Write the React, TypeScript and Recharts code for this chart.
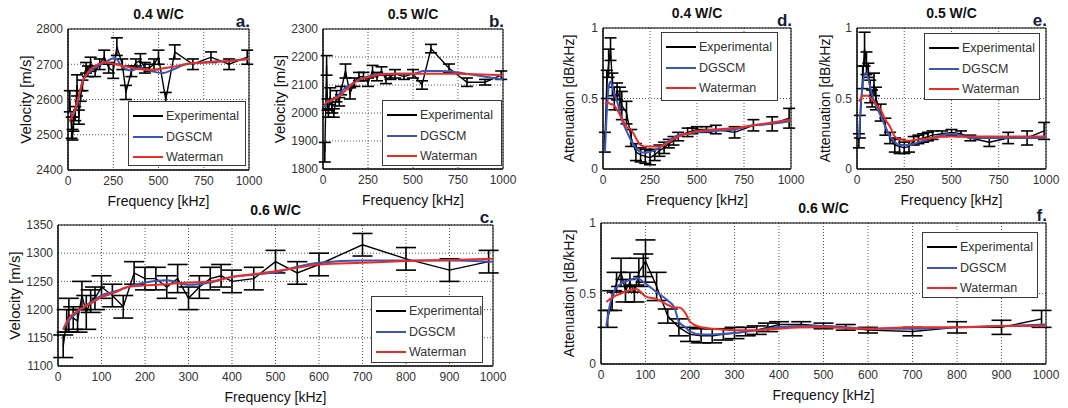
import { LineChart, Line, XAxis, YAxis, CartesianGrid, ErrorBar, ReferenceArea, Label } from 'recharts';

const FONT = '"Liberation Sans", Arial, Helvetica, sans-serif';
const BLACK = '#000000';
const BLUE = '#3a57b8';
const RED = '#ee2a24';

const seriesNames = ['Experimental', 'DGSCM', 'Waterman'];
const seriesColors = [BLACK, BLUE, RED];

const ticks250 = [0, 250, 500, 750, 1000];
const ticks100 = [0, 100, 200, 300, 400, 500, 600, 700, 800, 900, 1000];

// a. velocity, 0.4 W/C
const expFreqA = [10, 20, 25, 30, 40, 50, 60, 70, 80, 100, 110, 125, 150, 175, 200, 225, 250, 270, 300, 320, 350, 375, 400, 425, 450, 475, 500, 540, 590, 690, 790, 890, 990];
const expVelA = [2595, 2520, 2500, 2530, 2560, 2640, 2550, 2610, 2640, 2690, 2680, 2700, 2680, 2700, 2720, 2690, 2680, 2750, 2700, 2620, 2680, 2705, 2710, 2690, 2690, 2700, 2720, 2600, 2735, 2700, 2720, 2700, 2720];
const expErrA = [30, 30, 15, 20, 20, 30, 20, 15, 15, 15, 15, 20, 15, 15, 20, 15, 20, 25, 15, 20, 15, 10, 20, 15, 10, 15, 20, 20, 20, 15, 15, 15, 20];
const modelFreqA = [10, 25, 40, 60, 80, 100, 125, 150, 200, 260, 300, 350, 400, 450, 520, 580, 650, 750, 900, 1000];
const dgscmA = [2565, 2555, 2570, 2610, 2650, 2668, 2680, 2690, 2705, 2718, 2692, 2682, 2690, 2682, 2675, 2685, 2700, 2705, 2710, 2715];
const watermanA = [2540, 2555, 2575, 2610, 2650, 2670, 2685, 2695, 2705, 2700, 2696, 2690, 2686, 2684, 2688, 2693, 2700, 2705, 2710, 2715];

// b. velocity, 0.5 W/C
const expFreqB = [10, 20, 25, 30, 40, 50, 60, 75, 90, 100, 125, 150, 175, 200, 225, 250, 275, 300, 325, 350, 375, 400, 450, 500, 550, 600, 700, 800, 900, 990];
const expVelB = [1860, 2170, 2030, 2000, 2060, 2020, 2000, 2060, 2040, 2080, 2150, 2070, 2110, 2130, 2130, 2110, 2150, 2130, 2150, 2120, 2130, 2140, 2130, 2140, 2100, 2230, 2160, 2110, 2110, 2135];
const expErrB = [35, 35, 20, 15, 30, 20, 15, 20, 15, 15, 25, 20, 15, 15, 15, 15, 20, 15, 15, 15, 10, 15, 10, 15, 15, 15, 15, 15, 10, 15];
const modelFreqB = [10, 25, 40, 60, 80, 100, 125, 150, 175, 200, 250, 300, 350, 400, 500, 560, 650, 750, 850, 1000];
const dgscmB = [2020, 2045, 2040, 2050, 2060, 2075, 2090, 2100, 2110, 2120, 2130, 2138, 2140, 2140, 2140, 2150, 2150, 2145, 2135, 2120];
const watermanB = [2030, 2040, 2045, 2050, 2055, 2065, 2080, 2095, 2108, 2118, 2128, 2135, 2138, 2140, 2140, 2140, 2140, 2140, 2138, 2135];

// c. velocity, 0.6 W/C
const expFreqC = [12, 20, 25, 35, 45, 55, 65, 75, 85, 100, 125, 150, 175, 200, 225, 250, 275, 300, 325, 350, 375, 400, 450, 500, 550, 600, 700, 800, 900, 990];
const expVelC = [1135, 1180, 1190, 1185, 1180, 1225, 1195, 1215, 1220, 1240, 1225, 1205, 1265, 1255, 1255, 1240, 1255, 1220, 1240, 1255, 1260, 1250, 1255, 1285, 1265, 1280, 1315, 1290, 1270, 1285];
const expErrC = [20, 20, 30, 20, 20, 25, 30, 20, 20, 20, 20, 20, 20, 20, 20, 20, 25, 20, 20, 20, 20, 20, 20, 20, 20, 20, 20, 20, 20, 20];
const modelFreqC = [12, 25, 40, 60, 80, 100, 130, 160, 200, 250, 300, 350, 400, 450, 500, 550, 600, 700, 800, 900, 1000];
const dgscmC = [1165, 1180, 1192, 1205, 1215, 1225, 1232, 1240, 1248, 1252, 1244, 1248, 1258, 1262, 1266, 1276, 1283, 1287, 1287, 1287, 1285];
const watermanC = [1165, 1185, 1195, 1205, 1213, 1222, 1230, 1240, 1243, 1245, 1248, 1250, 1258, 1263, 1268, 1274, 1280, 1283, 1286, 1288, 1290];

// d. attenuation, 0.4 W/C
const expFreqD = [10, 20, 30, 40, 50, 60, 75, 90, 100, 125, 150, 175, 200, 225, 250, 275, 300, 325, 350, 375, 400, 450, 475, 500, 550, 600, 700, 800, 900, 990];
const expAttD = [0.19, 0.6, 0.75, 0.85, 0.6, 0.5, 0.55, 0.5, 0.45, 0.4, 0.22, 0.12, 0.1, 0.09, 0.08, 0.1, 0.13, 0.15, 0.18, 0.2, 0.23, 0.26, 0.27, 0.28, 0.28, 0.28, 0.26, 0.31, 0.32, 0.36];
const expErrD = [0.07, 0.1, 0.1, 0.08, 0.08, 0.08, 0.06, 0.08, 0.1, 0.08, 0.06, 0.06, 0.05, 0.05, 0.05, 0.04, 0.04, 0.04, 0.03, 0.03, 0.03, 0.03, 0.02, 0.02, 0.02, 0.03, 0.04, 0.04, 0.05, 0.07];
const modelFreqD = [10, 20, 30, 40, 50, 60, 75, 100, 125, 150, 175, 200, 225, 250, 300, 350, 400, 450, 500, 600, 700, 800, 900, 1000];
const dgscmD = [0.12, 0.4, 0.58, 0.62, 0.58, 0.53, 0.48, 0.35, 0.27, 0.2, 0.15, 0.12, 0.115, 0.12, 0.15, 0.2, 0.24, 0.25, 0.26, 0.27, 0.28, 0.31, 0.32, 0.34];
const watermanD = [0.47, 0.47, 0.47, 0.46, 0.46, 0.45, 0.42, 0.36, 0.3, 0.28, 0.22, 0.17, 0.16, 0.16, 0.16, 0.19, 0.23, 0.25, 0.27, 0.28, 0.29, 0.31, 0.33, 0.35];

// e. attenuation, 0.5 W/C
const expFreqE = [10, 15, 30, 40, 50, 60, 70, 80, 90, 100, 125, 150, 175, 200, 225, 250, 275, 300, 325, 350, 375, 400, 450, 500, 550, 600, 700, 800, 900, 990];
const expAttE = [0.2, 0.3, 0.65, 0.85, 0.75, 0.7, 0.55, 0.5, 0.6, 0.5, 0.4, 0.3, 0.22, 0.17, 0.16, 0.15, 0.16, 0.2, 0.21, 0.22, 0.23, 0.24, 0.25, 0.26, 0.25, 0.22, 0.19, 0.22, 0.22, 0.27];
const expErrE = [0.05, 0.08, 0.08, 0.12, 0.08, 0.05, 0.08, 0.06, 0.08, 0.08, 0.06, 0.06, 0.04, 0.05, 0.05, 0.04, 0.04, 0.03, 0.03, 0.03, 0.03, 0.03, 0.02, 0.02, 0.02, 0.02, 0.03, 0.04, 0.05, 0.06];
const modelFreqE = [10, 20, 30, 45, 60, 75, 100, 125, 150, 175, 200, 225, 275, 325, 400, 450, 500, 550, 600, 700, 800, 900, 1000];
const dgscmE = [0.22, 0.45, 0.6, 0.68, 0.64, 0.55, 0.45, 0.38, 0.3, 0.23, 0.19, 0.17, 0.17, 0.19, 0.22, 0.24, 0.25, 0.24, 0.22, 0.22, 0.22, 0.22, 0.22];
const watermanE = [0.48, 0.5, 0.52, 0.52, 0.52, 0.5, 0.46, 0.42, 0.35, 0.3, 0.23, 0.21, 0.2, 0.21, 0.22, 0.23, 0.23, 0.23, 0.23, 0.23, 0.23, 0.23, 0.23];

// f. attenuation, 0.6 W/C
const expFreqF = [15, 25, 35, 45, 55, 65, 75, 85, 95, 100, 125, 150, 175, 200, 225, 250, 275, 300, 325, 350, 375, 400, 450, 500, 550, 600, 700, 800, 900, 990];
const expAttF = [0.32, 0.45, 0.58, 0.65, 0.52, 0.58, 0.5, 0.65, 0.7, 0.73, 0.55, 0.34, 0.26, 0.21, 0.2, 0.2, 0.21, 0.22, 0.23, 0.24, 0.26, 0.28, 0.28, 0.27, 0.26, 0.24, 0.23, 0.26, 0.26, 0.32];
const expErrF = [0.06, 0.07, 0.07, 0.1, 0.08, 0.07, 0.06, 0.1, 0.08, 0.15, 0.1, 0.05, 0.06, 0.05, 0.05, 0.05, 0.04, 0.04, 0.03, 0.03, 0.03, 0.02, 0.02, 0.02, 0.02, 0.02, 0.03, 0.04, 0.05, 0.06];
const modelFreqF = [12, 20, 30, 45, 60, 80, 100, 125, 150, 165, 175, 190, 200, 225, 250, 300, 350, 400, 450, 500, 600, 700, 800, 900, 1000];
const dgscmF = [0.27, 0.42, 0.52, 0.57, 0.59, 0.61, 0.57, 0.51, 0.45, 0.4, 0.3, 0.26, 0.23, 0.21, 0.21, 0.22, 0.24, 0.26, 0.27, 0.27, 0.25, 0.25, 0.26, 0.27, 0.28];
const watermanF = [0.44, 0.46, 0.48, 0.5, 0.52, 0.53, 0.48, 0.46, 0.42, 0.4, 0.4, 0.36, 0.3, 0.26, 0.25, 0.24, 0.24, 0.25, 0.26, 0.26, 0.25, 0.26, 0.26, 0.27, 0.27];

const zipExp = (f: number[], v: number[], e: number[]) => f.map((x, i) => ({ f: x, v: v[i], err: e[i] }));
const zipModel = (f: number[], v: number[]) => f.map((x, i) => ({ f: x, v: v[i] }));

type Rect = { x0: number; y0: number; x1: number; y1: number };
type Box = { left: number; top: number; width: number; height: number };

type PanelProps = {
  rect: Rect;
  title: string;
  letter: string;
  yLabel: string;
  yLabelDist: number;
  yLabelSize: number;
  yDomain: number[];
  yTicks: number[];
  xTicks: number[];
  cap: number;
  legend: Box;
  exp: { f: number; v: number; err: number }[];
  dg: { f: number; v: number }[];
  wm: { f: number; v: number }[];
};

function LegendBox({ box }: { box: Box }) {
  return (
    <div
      style={{
        position: 'absolute', left: box.left, top: box.top, width: box.width, height: box.height,
        border: '1px solid #3a3a3a', background: '#fff', boxSizing: 'border-box', paddingTop: 4,
        fontFamily: FONT, fontSize: 12.5, color: '#333',
      }}
    >
      {seriesNames.map((name, i) => (
        <div key={name} style={{ display: 'flex', alignItems: 'center', height: 20.5 }}>
          <div style={{ marginLeft: 4, width: 30, height: 2, background: seriesColors[i] }} />
          <span style={{ marginLeft: 3 }}>{name}</span>
        </div>
      ))}
    </div>
  );
}

function Panel(p: PanelProps) {
  const { rect } = p;
  const yW = p.yLabelDist * 2;
  const mt = 8, mr = 16, mb = 8, xH = 36;
  const w = rect.x1 - rect.x0 + yW + mr;
  const h = rect.y1 - rect.y0 + mt + xH + mb;
  const tickStyle = { fill: '#333', fontSize: 12, fontFamily: FONT };
  const labelStyle = { fill: '#111', fontSize: 14, fontFamily: FONT };
  return (
    <>
      <div style={{ position: 'absolute', left: rect.x0 - yW, top: rect.y0 - mt }}>
        <LineChart width={w} height={h} margin={{ top: mt, right: mr, left: 0, bottom: mb }}>
          <CartesianGrid stroke="#555" strokeDasharray="1 2" />
          <XAxis
            type="number" dataKey="f" domain={[0, 1000]} ticks={p.xTicks} interval={0} height={xH}
            tickLine={false} tickSize={0} tickMargin={6} axisLine={{ stroke: '#000' }} tick={tickStyle} allowDataOverflow
          >
            <Label value="Frequency [kHz]" position="insideBottom" offset={0} style={labelStyle} />
          </XAxis>
          <YAxis
            type="number" domain={p.yDomain} ticks={p.yTicks} interval={0} width={yW}
            tickLine={false} tickSize={0} tickMargin={5} axisLine={{ stroke: '#000' }} tick={tickStyle} allowDataOverflow
          >
            <Label value={p.yLabel} angle={-90} position="center" style={{ ...labelStyle, fontSize: p.yLabelSize }} />
          </YAxis>
          <ReferenceArea x1={0} x2={1000} y1={p.yDomain[0]} y2={p.yDomain[1]} fill="none" stroke="#000" strokeWidth={1} />
          <Line data={p.exp} dataKey="v" type="linear" stroke={BLACK} strokeWidth={1.4} dot={false} isAnimationActive={false}>
            <ErrorBar dataKey="err" width={p.cap} stroke={BLACK} strokeWidth={1.6} direction="y" />
          </Line>
          <Line data={p.dg} dataKey="v" type="monotone" stroke={BLUE} strokeWidth={2} dot={false} isAnimationActive={false} />
          <Line data={p.wm} dataKey="v" type="monotone" stroke={RED} strokeWidth={2} dot={false} isAnimationActive={false} />
        </LineChart>
      </div>
      <LegendBox box={p.legend} />
      <div
        style={{
          position: 'absolute', left: rect.x0, width: rect.x1 - rect.x0, top: rect.y0 - 22, textAlign: 'center',
          fontFamily: FONT, fontWeight: 'bold', fontSize: 14, lineHeight: '14px', color: '#111',
        }}
      >
        {p.title}
      </div>
      <div
        style={{
          position: 'absolute', left: rect.x1 - 40, width: 41, top: rect.y0 - 16, textAlign: 'right',
          fontFamily: FONT, fontWeight: 'bold', fontSize: 17, lineHeight: '17px', color: '#14203a',
        }}
      >
        {p.letter}
      </div>
    </>
  );
}

const velTicksA = [2400, 2500, 2600, 2700, 2800];
const velTicksB = [1800, 1900, 2000, 2100, 2200, 2300];
const velTicksC = [1100, 1150, 1200, 1250, 1300, 1350];
const attTicks = [0, 0.5, 1];

export default function App() {
  return (
    <div style={{ position: 'fixed', left: 0, top: 0, width: 1068, height: 408, background: '#fff', overflow: 'hidden' }}>
      <Panel
        rect={{ x0: 68, y0: 29, x1: 249, y1: 170 }} title="0.4 W/C" letter="a." yLabel="Velocity [m/s]" yLabelDist={42} yLabelSize={15}
        yDomain={[2400, 2800]} yTicks={velTicksA} xTicks={ticks250} cap={6}
        legend={{ left: 128, top: 101, width: 118, height: 65 }}
        exp={zipExp(expFreqA, expVelA, expErrA)} dg={zipModel(modelFreqA, dgscmA)} wm={zipModel(modelFreqA, watermanA)}
      />
      <Panel
        rect={{ x0: 323, y0: 29, x1: 503, y1: 169 }} title="0.5 W/C" letter="b." yLabel="Velocity [m/s]" yLabelDist={43} yLabelSize={15}
        yDomain={[1800, 2300]} yTicks={velTicksB} xTicks={ticks250} cap={6}
        legend={{ left: 382, top: 100, width: 120, height: 66 }}
        exp={zipExp(expFreqB, expVelB, expErrB)} dg={zipModel(modelFreqB, dgscmB)} wm={zipModel(modelFreqB, watermanB)}
      />
      <Panel
        rect={{ x0: 58, y0: 225, x1: 493, y1: 366 }} title="0.6 W/C" letter="c." yLabel="Velocity [m/s]" yLabelDist={43} yLabelSize={15}
        yDomain={[1100, 1350]} yTicks={velTicksC} xTicks={ticks100} cap={10}
        legend={{ left: 371, top: 296, width: 112, height: 67 }}
        exp={zipExp(expFreqC, expVelC, expErrC)} dg={zipModel(modelFreqC, dgscmC)} wm={zipModel(modelFreqC, watermanC)}
      />
      <Panel
        rect={{ x0: 603, y0: 28, x1: 791, y1: 169 }} title="0.4 W/C" letter="d." yLabel="Attenuation [dB/kHz]" yLabelDist={34} yLabelSize={14}
        yDomain={[0, 1]} yTicks={attTicks} xTicks={ticks250} cap={6}
        legend={{ left: 661, top: 32, width: 117, height: 69 }}
        exp={zipExp(expFreqD, expAttD, expErrD)} dg={zipModel(modelFreqD, dgscmD)} wm={zipModel(modelFreqD, watermanD)}
      />
      <Panel
        rect={{ x0: 857, y0: 28, x1: 1046, y1: 169 }} title="0.5 W/C" letter="e." yLabel="Attenuation [dB/kHz]" yLabelDist={32} yLabelSize={14}
        yDomain={[0, 1]} yTicks={attTicks} xTicks={ticks250} cap={6}
        legend={{ left: 924, top: 33, width: 116, height: 67 }}
        exp={zipExp(expFreqE, expAttE, expErrE)} dg={zipModel(modelFreqE, dgscmE)} wm={zipModel(modelFreqE, watermanE)}
      />
      <Panel
        rect={{ x0: 601, y0: 223, x1: 1046, y1: 364 }} title="0.6 W/C" letter="f." yLabel="Attenuation [dB/kHz]" yLabelDist={32} yLabelSize={14}
        yDomain={[0, 1]} yTicks={attTicks} xTicks={ticks100} cap={10}
        legend={{ left: 922, top: 232, width: 116, height: 66 }}
        exp={zipExp(expFreqF, expAttF, expErrF)} dg={zipModel(modelFreqF, dgscmF)} wm={zipModel(modelFreqF, watermanF)}
      />
    </div>
  );
}
